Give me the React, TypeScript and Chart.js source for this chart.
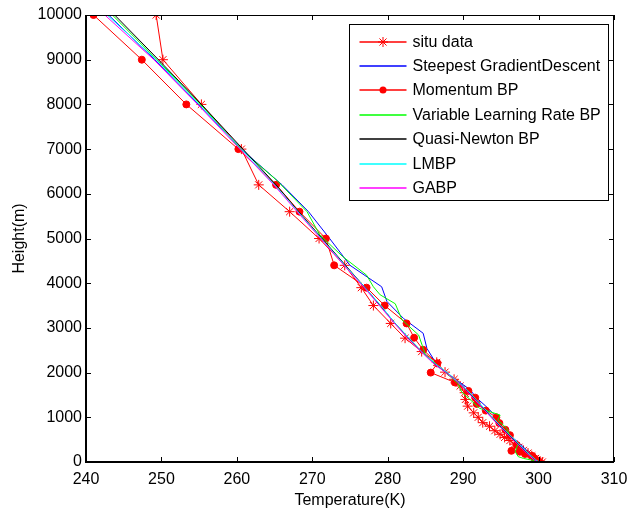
import React, { useEffect, useRef } from "react";
import { Chart, registerables } from "chart.js";

Chart.register(...registerables);

// ---- data (Temperature K, Height m) ----
const situT = [249.3, 250.2, 255.3, 260.6, 262.9, 267.0, 270.9, 274.3, 276.5, 278.1, 280.4, 282.3, 284.5, 286.5, 287.6, 288.8, 289.6, 290.2, 290.3, 290.6, 291.4, 292.0, 292.6, 293.5, 294.2, 294.9, 295.5, 296.2, 296.8, 297.4, 298.0, 298.6, 299.1, 299.6, 300.2, 300.5];
const situH = [10000, 9000, 8000, 7000, 6200, 5600, 5000, 4400, 3900, 3500, 3100, 2770, 2470, 2230, 2010, 1850, 1700, 1550, 1400, 1250, 1100, 1000, 880, 800, 700, 620, 550, 480, 400, 330, 260, 200, 140, 80, 20, 0];

const sgdT = [243.0, 249.1, 254.9, 260.6, 266.0, 269.5, 272.3, 275.0, 279.2, 279.9, 282.1, 284.7, 285.2, 286.7, 289.4, 290.9, 291.8, 293.0, 294.2, 295.3, 296.5, 297.6, 298.6, 299.7, 300.0];
const sgdH = [10000, 9000, 8000, 7000, 6200, 5600, 5000, 4400, 3920, 3590, 3210, 2880, 2540, 2130, 1800, 1620, 1430, 1250, 1050, 750, 550, 400, 230, 80, 0];

const momT = [241.0, 247.4, 253.3, 260.2, 265.2, 268.3, 271.8, 272.9, 277.2, 279.6, 282.5, 283.5, 284.7, 286.6, 285.7, 288.9, 290.7, 291.6, 291.8, 293.0, 294.4, 294.8, 295.6, 296.2, 297.1, 296.4, 297.5, 298.2, 299.1, 299.5, 300.0];
const momH = [10000, 9000, 8000, 7000, 6200, 5600, 5000, 4400, 3900, 3500, 3100, 2780, 2510, 2210, 2000, 1780, 1590, 1440, 1300, 1150, 1000, 870, 720, 600, 380, 250, 230, 180, 140, 80, 20];

const vlrT = [243.5, 249.4, 255.2, 260.5, 265.3, 269.3, 271.0, 274.0, 277.2, 278.1, 279.0, 281.0, 281.9, 284.1, 285.0, 287.0, 289.3, 289.8, 292.2, 294.9, 294.6, 295.8, 296.2, 297.3, 296.9, 297.3, 298.0, 299.5, 300.0];
const vlrH = [10000, 9000, 8000, 7000, 6300, 5600, 5080, 4600, 4180, 3920, 3740, 3540, 3180, 2840, 2400, 2100, 1760, 1570, 1200, 1050, 940, 750, 570, 420, 230, 120, 80, 30, 0];

const qnT = [243.8, 249.6, 255.3, 260.8, 265.2, 268.2, 271.3, 274.4, 277.0, 279.0, 281.0, 282.8, 284.5, 286.2, 287.8, 289.3, 290.5, 291.6, 292.7, 293.8, 294.9, 296.1, 297.3, 298.5, 299.5, 300.0];
const qnH = [10000, 9000, 8000, 7000, 6200, 5600, 5000, 4400, 3900, 3500, 3100, 2760, 2470, 2200, 2000, 1800, 1600, 1400, 1200, 1000, 800, 600, 400, 200, 50, 0];

const lmT = [242.8, 249.3, 255.0, 260.6, 265.0, 268.1, 271.2, 274.3, 277.0, 279.1, 281.0, 282.9, 284.5, 286.3, 287.9, 289.3, 290.6, 291.7, 292.8, 293.9, 295.0, 296.2, 297.4, 298.6, 299.6, 300.1];
const lmH = qnH;

const gaT = [242.5, 249.0, 254.8, 260.4, 264.9, 268.0, 271.1, 274.2, 276.9, 278.9, 280.9, 282.7, 284.4, 286.1, 287.7, 289.2, 290.4, 291.5, 292.6, 293.7, 294.8, 296.0, 297.2, 298.4, 299.4, 299.9];
const gaH = qnH;

const seriesLabels = ["situ data", "Steepest GradientDescent", "Momentum BP", "Variable Learning Rate BP", "Quasi-Newton BP", "LMBP", "GABP"];
const seriesColors = ["#ff0000", "#0000ff", "#ff0000", "#00ff00", "#000000", "#00ffff", "#ff00ff"];
const seriesMarkers = ["star", "none", "dot", "none", "none", "none", "none"];

const xTicks = [240, 250, 260, 270, 280, 290, 300, 310];
const yTicks = [0, 1000, 2000, 3000, 4000, 5000, 6000, 7000, 8000, 9000, 10000];

const FONT = "'Liberation Sans', Arial, Helvetica, sans-serif";
const FS = 16;

function pts(t: number[], h: number[]) {
  return t.map((v, i) => ({ x: v, y: h[i] }));
}

const framePlugin = {
  id: "frame",
  afterDraw(chart: any) {
    const { ctx, chartArea: a, scales } = chart;
    const xs = scales.x;
    const ys = scales.y;
    ctx.save();
    ctx.strokeStyle = "#000";
    ctx.lineWidth = 1;
    ctx.beginPath();
    ctx.moveTo(a.left, a.top + 0.5);
    ctx.lineTo(a.right, a.top + 0.5);
    ctx.moveTo(a.right - 0.5, a.top);
    ctx.lineTo(a.right - 0.5, a.bottom);
    ctx.stroke();
    ctx.lineWidth = 2;
    ctx.beginPath();
    ctx.moveTo(a.left, a.top);
    ctx.lineTo(a.left, a.bottom);
    ctx.lineTo(a.right, a.bottom);
    ctx.stroke();
    ctx.lineWidth = 1;
    const tl = 5;
    ctx.beginPath();
    xTicks.forEach((v) => {
      const px = Math.round(xs.getPixelForValue(v)) + 0.5;
      ctx.moveTo(px, a.bottom);
      ctx.lineTo(px, a.bottom - tl);
      ctx.moveTo(px, a.top);
      ctx.lineTo(px, a.top + tl);
    });
    yTicks.forEach((v) => {
      const py = Math.round(ys.getPixelForValue(v)) + 0.5;
      ctx.moveTo(a.left, py);
      ctx.lineTo(a.left + tl, py);
      ctx.moveTo(a.right, py);
      ctx.lineTo(a.right - tl, py);
    });
    ctx.stroke();

    // legend
    const bw = 259;
    const bh = 176;
    const bx = Math.round(a.right - 6 - bw) + 0.5;
    const by = Math.round(a.top + 9) + 0.5;
    ctx.fillStyle = "#fff";
    ctx.fillRect(bx, by, bw, bh);
    ctx.strokeStyle = "#000";
    ctx.lineWidth = 1;
    ctx.strokeRect(bx, by, bw, bh);
    ctx.font = `${FS}px ${FONT}`;
    ctx.textBaseline = "middle";
    ctx.textAlign = "left";
    seriesLabels.forEach((lab, i) => {
      const cy = Math.round(by + 17 + i * 24.4);
      const x0 = bx + 10;
      const x1 = bx + 57;
      const cx = (x0 + x1) / 2;
      ctx.strokeStyle = seriesColors[i];
      ctx.lineWidth = 1.5;
      ctx.beginPath();
      ctx.moveTo(x0, cy);
      ctx.lineTo(x1, cy);
      ctx.stroke();
      ctx.lineWidth = 1;
      if (seriesMarkers[i] === "dot") {
        ctx.fillStyle = seriesColors[i];
        ctx.beginPath();
        ctx.arc(cx, cy, 3.5, 0, Math.PI * 2);
        ctx.fill();
      } else if (seriesMarkers[i] === "star") {
        const r = 5;
        ctx.beginPath();
        for (let k = 0; k < 4; k++) {
          const ang = (k * Math.PI) / 4;
          ctx.moveTo(cx - r * Math.cos(ang), cy - r * Math.sin(ang));
          ctx.lineTo(cx + r * Math.cos(ang), cy + r * Math.sin(ang));
        }
        ctx.stroke();
      }
      ctx.fillStyle = "#000";
      ctx.fillText(lab, bx + 63, cy + 1);
    });
    ctx.restore();
  },
};

export default function App() {
  const ref = useRef<HTMLCanvasElement | null>(null);
  useEffect(() => {
    if (!ref.current) return;
    const data = [pts(situT, situH), pts(sgdT, sgdH), pts(momT, momH), pts(vlrT, vlrH), pts(qnT, qnH), pts(lmT, lmH), pts(gaT, gaH)];
    const datasets = data.map((d, i) => ({
      label: seriesLabels[i],
      data: d,
      borderColor: seriesColors[i],
      backgroundColor: seriesColors[i],
      borderWidth: 1,
      pointStyle: seriesMarkers[i] === "star" ? "star" : "circle",
      pointRadius: seriesMarkers[i] === "star" ? 5 : seriesMarkers[i] === "dot" ? 3.5 : 0,
      pointBorderWidth: 1,
      pointBorderColor: seriesColors[i],
      pointBackgroundColor: seriesColors[i],
      tension: 0,
      fill: false,
      order: seriesLabels.length - 1 - i,
    }));
    const chart = new Chart(ref.current, {
      type: "line",
      data: { datasets },
      options: {
        animation: false,
        responsive: false,
        parsing: false as any,
        layout: { padding: { top: 15, right: 25, left: 0, bottom: 0 } },
        plugins: { legend: { display: false }, tooltip: { enabled: false } },
        scales: {
          x: {
            type: "linear",
            min: 240,
            max: 310,
            afterBuildTicks: (s: any) => {
              s.ticks = xTicks.map((v) => ({ value: v }));
            },
            afterFit: (s: any) => {
              s.height = 50;
            },
            grid: { display: false, drawTicks: false },
            border: { display: false },
            ticks: { color: "#000", font: { family: FONT, size: FS }, padding: 8, maxRotation: 0, autoSkip: false, callback: (v: any) => String(v) },
            title: { display: true, text: "Temperature(K)", color: "#000", font: { family: FONT, size: FS }, padding: { top: 0, bottom: 2 } },
          },
          y: {
            type: "linear",
            min: 0,
            max: 10000,
            afterBuildTicks: (s: any) => {
              s.ticks = yTicks.map((v) => ({ value: v }));
            },
            afterFit: (s: any) => {
              s.width = 86;
            },
            grid: { display: false, drawTicks: false },
            border: { display: false },
            ticks: { color: "#000", font: { family: FONT, size: FS }, padding: 4, autoSkip: false, callback: (v: any) => String(v) },
            title: { display: true, text: "Height(m)", color: "#000", font: { family: FONT, size: FS }, padding: { top: 10, bottom: 0 } },
          },
        },
      },
      plugins: [framePlugin],
    });
    return () => chart.destroy();
  }, []);
  return (
    <div style={{ position: "absolute", left: 0, top: 0, width: 639, height: 512, background: "#fff" }}>
      <canvas ref={ref} width={639} height={512} />
    </div>
  );
}
